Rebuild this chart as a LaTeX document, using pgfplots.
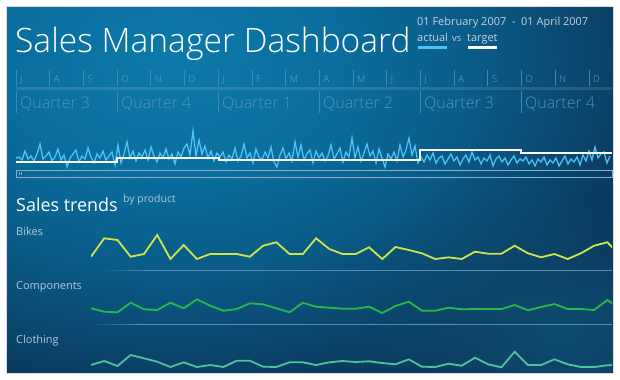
\documentclass[border=0pt]{standalone}
\usepackage{pgfplots}
\usepackage{pgfplotstable}
\pgfplotsset{compat=1.18}
\usetikzlibrary{fadings}
\usepackage{fontspec}
\setmainfont{Open Sans}
\newfontfamily\lightfont{Open Sans Light}
\definecolor{bg0}{HTML}{0B7AAA}
\definecolor{bgA}{HTML}{0A6E9E}
\definecolor{bgB}{HTML}{0A5A86}
\definecolor{bgC}{HTML}{0C3254}
\definecolor{glow}{HTML}{0E4C70}
\definecolor{actualcol}{HTML}{4CC2F5}
\definecolor{bikecol}{HTML}{CFE34A}
\definecolor{compcol}{HTML}{27B84A}
\definecolor{clothcol}{HTML}{4CC49A}
\definecolor{sepcol}{HTML}{3D8AB5}
\definecolor{monthcol}{HTML}{64A4C8}
\definecolor{quartcol}{HTML}{4F94BC}
\definecolor{datecol}{HTML}{C4D4E0}
\definecolor{labelcol}{HTML}{B4C8D6}
\definecolor{trendsep}{HTML}{5A8DB0}
\definecolor{scrollcol}{HTML}{7FB0CC}
\pgfdeclareradialshading{bgshade}{\pgfpoint{0bp}{0bp}}{color(0bp)=(bg0); color(8bp)=(bgA); color(15bp)=(bgB); color(25bp)=(bgC); color(50bp)=(bgC)}
\tikzfading[name=radfade, inner color=transparent!0, outer color=transparent!100]

% daily actual sales (one value every 3 px of the time line), Q3 2006 ... Q4 2007
\pgfplotstableread[row sep=\\]{v\\
17\\18\\15\\24\\16\\19\\14\\21\\31\\16\\19\\23\\14\\18\\26\\15\\20\\8\\17\\21\\25\\13\\19\\16\\27\\18\\12\\21\\17\\24\\15\\19\\23\\10\\
30\\12\\21\\33\\17\\24\\14\\22\\18\\25\\15\\28\\19\\13\\22\\17\\26\\16\\21\\11\\23\\18\\27\\31\\20\\44\\19\\35\\21\\29\\17\\24\\14\\22\\
18\\23\\13\\20\\16\\27\\14\\19\\31\\17\\22\\12\\26\\18\\15\\23\\17\\28\\13\\8\\20\\27\\16\\22\\14\\33\\18\\30\\15\\21\\25\\12\\24\\17\\
22\\14\\19\\30\\16\\21\\27\\13\\23\\18\\37\\17\\28\\14\\22\\31\\19\\24\\12\\26\\17\\8\\21\\16\\23\\14\\30\\18\\25\\37\\20\\29\\12\\
18\\13\\20\\15\\22\\12\\17\\19\\11\\16\\21\\14\\18\\10\\16\\20\\13\\23\\15\\18\\11\\17\\14\\20\\9\\16\\19\\13\\17\\10\\15\\19\\12\\16\\
14\\18\\11\\15\\9\\16\\13\\18\\10\\15\\12\\17\\9\\14\\19\\11\\16\\13\\18\\10\\20\\14\\24\\15\\28\\17\\21\\23\\12\\19\\
}\actual

\pgfplotstableread[row sep=\\]{i bikes comp cloth\\
0 3.3 6.7 5\\ 1 21.7 3.3 9\\ 2 20 2.7 4\\ 3 3.3 12.3 15\\ 4 6 5.7 11.7\\
5 25 5 8.3\\ 6 1 12.3 3\\ 7 15 6.7 7.7\\ 8 1 15.7 3\\ 9 6 9.3 5\\
10 6 4.3 3\\ 11 6 6 9.3\\ 12 3.3 11.7 9.3\\ 13 14.3 10.7 3.3\\ 14 17.7 6.7 3\\
15 6 2.7 7.7\\ 16 6 12.3 7.7\\ 17 21.7 8.3 5\\ 18 11 7.3 7.7\\ 19 6 6.3 9\\
20 6 6.3 8\\ 21 12.7 8.3 8.7\\ 22 1 2 7\\ 23 13 9 5.7\\ 24 10 13.3 10.7\\
25 6.7 4.3 3.3\\ 26 1 4.3 3\\ 27 2.7 7.3 6.3\\ 28 1 5.7 4.3\\ 29 8.3 6 12.3\\
30 6.3 6 5.7\\ 31 6.3 6 2.7\\ 32 14.3 10 18.3\\ 33 6.7 4.7 5\\ 34 2.7 8 5\\
35 6 11 10.7\\ 36 1 6 5.7\\ 37 6.7 6 3\\ 38 14.3 5 3\\ 39 17.7 15 4.7\\
40 4 6 5.5\\
}\trends

\begin{document}
\begin{tikzpicture}
\useasboundingbox (0,0) rectangle (620bp,-380bp);
\begin{scope}[x=1bp,y=-1bp]
  \fill[white] (0,0) rectangle (620,380);
  \begin{scope}
    \clip (7,7) rectangle (613,373);
    \fill[bgC] (7,7) rectangle (613,373);
    \shade[shading=bgshade] (170,60) ellipse (520 and 360);
    \fill[glow, path fading=radfade] (560,330) ellipse (240 and 140);
  \end{scope}
  \draw[black!13, line width=1] (6.5,6.5) rectangle (613.5,373.5);
  % title
  \node[anchor=base west, inner sep=0, text=white, font=\lightfont\fontsize{33.7}{33.7}\selectfont] at (15,52) {Sales Manager Dashboard};
  \node[anchor=base west, inner sep=0, text=datecol, font=\fontsize{11}{11}\selectfont] at (417,25) {01 February 2007\ \ -\ \ 01 April 2007};
  \node[anchor=base west, inner sep=0, text=datecol, font=\fontsize{11}{11}\selectfont] at (417,41) {actual};
  \node[anchor=base west, inner sep=0, text=datecol, font=\fontsize{9.5}{9.5}\selectfont] at (452,41) {vs};
  \node[anchor=base west, inner sep=0, text=datecol, font=\fontsize{11}{11}\selectfont] at (467,41) {target};
  \fill[actualcol] (418,46) rectangle (447,48.5);
  \fill[white] (468,46) rectangle (497,48.5);
  % months
  \foreach \m [count=\k from 0] in {J,A,S,O,N,D,J,F,M,A,M,J,J,A,S,O,N,D} {
    \draw[sepcol, line width=0.8] ({16+33.7*\k},70) -- ({16+33.7*\k},86);
    \node[anchor=base west, inner sep=0, text=monthcol, font=\lightfont\fontsize{9.5}{9.5}\selectfont] at ({16+33.7*\k+4},82) {\m};
  }
  \fill[white, opacity=0.12] (16,86.5) rectangle (612,89.5);
  \foreach \q [count=\k from 0] in {3,4,1,2,3,4} {
    \draw[sepcol, line width=0.8] ({16+101*\k},90.5) -- ({16+101*\k},112.5);
    \node[anchor=base west, inner sep=0, text=quartcol, font=\lightfont\fontsize{16}{16}\selectfont] at ({16+101*\k+4},108) {Quarter \q};
  }
  % scroll bar
  \draw[scrollcol, line width=0.8] (16.5,170) rectangle (612,177.5);
  \draw[scrollcol, line width=0.8] (19.5,172.3) -- (19.5,175.3) (21.5,172.3) -- (21.5,175.3);
  % sales trends
  \node[anchor=base west, inner sep=0, text=white, font=\fontsize{18}{18}\selectfont] at (16,211) {Sales trends};
  \node[anchor=base west, inner sep=0, text=labelcol, font=\fontsize{10.5}{10.5}\selectfont] at (123,202) {by product};
  \node[anchor=base west, inner sep=0, text=labelcol, font=\fontsize{11}{11}\selectfont] at (16,235) {Bikes};
  \node[anchor=base west, inner sep=0, text=labelcol, font=\fontsize{11}{11}\selectfont] at (16,289) {Components};
  \node[anchor=base west, inner sep=0, text=labelcol, font=\fontsize{11}{11}\selectfont] at (16,343) {Clothing};
  \fill[trendsep, path fading=west] (100,269.5) rectangle (150,270.5);
  \fill[trendsep] (150,269.5) rectangle (612,270.5);
  \fill[trendsep, path fading=west] (90,323.5) rectangle (140,324.5);
  \fill[trendsep] (140,323.5) rectangle (612,324.5);
\end{scope}

% main time line: actual vs target
\begin{axis}[at={(16bp,-175bp)}, anchor=south west, width=596bp, height=50bp, scale only axis, hide axis,
  xmin=0, xmax=198.67, ymin=0, ymax=50, clip=false]
  \addplot[actualcol, line width=1.3bp] table[x expr=\coordindex, y=v] {\actual};
  \addplot[white, line width=2bp, const plot] coordinates {(0,13.3) (33.7,16.7) (67.7,15) (101.3,15) (134.7,25) (168.3,21.7) (198.67,21.7)};
\end{axis}

% sparklines
\begin{axis}[at={(91bp,-270bp)}, anchor=south west, width=521bp, height=40bp, scale only axis, hide axis,
  xmin=0, xmax=39.35, ymin=-10, ymax=30]
  \addplot[bikecol, line width=1.8bp] table[x=i, y=bikes] {\trends};
\end{axis}
\begin{axis}[at={(91bp,-325bp)}, anchor=south west, width=521bp, height=30bp, scale only axis, hide axis,
  xmin=0, xmax=39.35, ymin=-10, ymax=20]
  \addplot[compcol, line width=1.8bp] table[x=i, y=comp] {\trends};
\end{axis}
\begin{axis}[at={(91bp,-372bp)}, anchor=south west, width=521bp, height=22bp, scale only axis, hide axis,
  xmin=0, xmax=39.35, ymin=-2, ymax=20]
  \addplot[clothcol, line width=1.8bp] table[x=i, y=cloth] {\trends};
\end{axis}
\end{tikzpicture}
\end{document}
